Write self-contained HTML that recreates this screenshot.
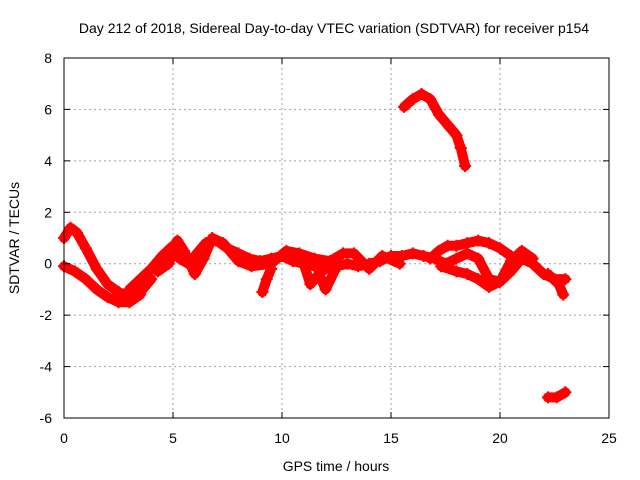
<!DOCTYPE html>
<html><head><meta charset="utf-8"><style>
body{margin:0;background:#fff}
svg{display:block;font-family:"Liberation Sans",sans-serif;font-size:14px}
</style></head><body>
<svg id="chart" width="640" height="480" viewBox="0 0 640 480">
<rect width="640" height="480" fill="#fff"/>
<text x="334" y="33" text-anchor="middle">Day 212 of 2018, Sidereal Day-to-day VTEC variation (SDTVAR) for receiver p154</text>
<g id="grid"></g>
<g id="series"></g>
<rect x="64" y="58" width="545" height="360" fill="none" stroke="#000" stroke-width="1"/>
<g id="ticks"></g>
<text x="336" y="471" text-anchor="middle">GPS time / hours</text>
<text transform="translate(19,238) rotate(-90)" text-anchor="middle">SDTVAR / TECUs</text>
</svg>
<script>
const xTicks=[0,5,10,15,20,25];
const yTicks=[-6,-4,-2,0,2,4,6,8];
const seriesUpperStart=[[0,1.0],[0.3,1.4],[0.6,1.2],[1,0.6],[1.5,-0.2],[2,-0.8],[2.5,-1.1],[3,-1.3],[3.5,-1.1],[4,-0.6]];
const seriesLowerStart=[[0,-0.1],[0.5,-0.3],[1,-0.6],[1.5,-1.0],[2,-1.3],[2.5,-1.5],[3,-1.5],[3.5,-1.2]];
const seriesMain=[[3,-1.0],[3.5,-0.6],[4,-0.2],[4.5,0.3],[5,0.7],[5.3,0.2],[5.7,0.0],[6,0.3],[6.5,0.8],[7,0.9],[7.5,0.6],[8,0.4],[8.5,0.2],[9,0.1],[9.5,0.2],[10,0.3],[10.5,0.1],[11,0.0],[11.5,-0.1],[12,-0.2],[12.5,-0.1],[13,0.0],[13.5,-0.1],[14,0.0],[14.5,0.1],[15,0.3],[15.5,0.3],[16,0.4],[16.5,0.3],[17,0.2],[17.5,0.0],[18,0.2],[18.5,0.4],[19,0.2],[19.5,-0.6],[20,-0.7],[20.5,-0.3],[21,0.2],[21.5,0.0],[22,-0.4],[22.5,-0.6],[23,-0.6]];
const seriesMainAlt=[[4.3,-0.3],[4.8,0.0],[5.2,0.9],[5.5,0.5],[6,-0.4],[6.4,0.2],[6.8,1.0],[7.3,0.8],[8,0.1],[8.6,-0.1],[9.5,0.0],[10.2,0.5],[10.8,0.4],[11.5,0.2],[12.2,0.1],[12.8,0.4],[13.3,0.4],[14,-0.2],[14.6,0.3],[15.4,0.0]];
const seriesLoopUpper=[[16.8,0.2],[17.2,0.5],[17.6,0.7],[18,0.7],[18.5,0.8],[19,0.9],[19.5,0.8],[20,0.6],[20.5,0.3]];
const seriesLoopLower=[[17.3,-0.1],[18,-0.3],[18.5,-0.4],[19,-0.6],[19.5,-0.9],[20,-0.7],[20.5,0.1],[21,0.5],[21.5,0.2]];
const seriesDipA=[[9.5,-0.2],[9.3,-0.6],[9.1,-1.1]];
const seriesDipB=[[11.0,0.0],[11.3,-0.8],[11.7,-0.4],[12.0,-1.0],[12.4,-0.3]];
const seriesTail=[[22.2,-0.4],[22.7,-0.8],[22.9,-1.2]];
const seriesHigh=[[15.6,6.1],[16,6.4],[16.4,6.6],[16.8,6.4],[17.2,5.8],[17.6,5.4],[18,5.0],[18.2,4.5],[18.4,3.8]];
const seriesLow=[[22.2,-5.2],[22.6,-5.2],[23,-5.0]];
const allSeries=[seriesUpperStart,seriesLowerStart,seriesMain,seriesMainAlt,seriesLoopUpper,seriesLoopLower,seriesDipA,seriesDipB,seriesTail,seriesHigh,seriesLow];
const NS='http://www.w3.org/2000/svg';
const X=v=>64+v*545/25, Y=v=>418-(v+6)*360/14;
const grid=document.getElementById('grid'),ticks=document.getElementById('ticks'),sg=document.getElementById('series');
function mk(tag,attrs,parent){const e=document.createElementNS(NS,tag);for(const k in attrs)e.setAttribute(k,attrs[k]);parent.appendChild(e);return e;}
xTicks.forEach(t=>{
 const x=X(t);
 if(t>0&&t<25){const g=mk('line',{x1:x,x2:x,y1:58,y2:418,stroke:'#a0a0a0','stroke-dasharray':'2,3'},grid);
 
 }
 mk('line',{x1:x,x2:x,y1:418,y2:412,stroke:'#000'},ticks);mk('line',{x1:x,x2:x,y1:58,y2:64,stroke:'#000'},ticks);
 const l=mk('text',{x:x,y:443,'text-anchor':'middle'},ticks);l.textContent=t;
 
 
});
yTicks.forEach(t=>{
 const y=Y(t);
 if(t>-6&&t<8){const g=mk('line',{x1:64,x2:609,y1:y,y2:y,stroke:'#a0a0a0','stroke-dasharray':'2,3'},grid);
 
 }
 mk('line',{x1:64,x2:70,y1:y,y2:y,stroke:'#000'},ticks);mk('line',{x1:609,x2:603,y1:y,y2:y,stroke:'#000'},ticks);
 const l=mk('text',{x:52,y:y+5,'text-anchor':'end'},ticks);l.textContent=t;
 
 
});
allSeries.forEach((s,i)=>{
 const p=mk('polyline',{points:s.map(d=>X(d[0])+','+Y(d[1])).join(' '),fill:'none',stroke:'#ff0000','stroke-width':10,'stroke-linejoin':'round','stroke-linecap':'round'},sg);
 
 
 s.forEach(d=>{const m=mk('path',{d:`M${X(d[0])-6},${Y(d[1])}h12M${X(d[0])},${Y(d[1])-6}v12`,stroke:'#ff0000','stroke-width':2},sg);
 
 });
});
</script>
</body></html>
